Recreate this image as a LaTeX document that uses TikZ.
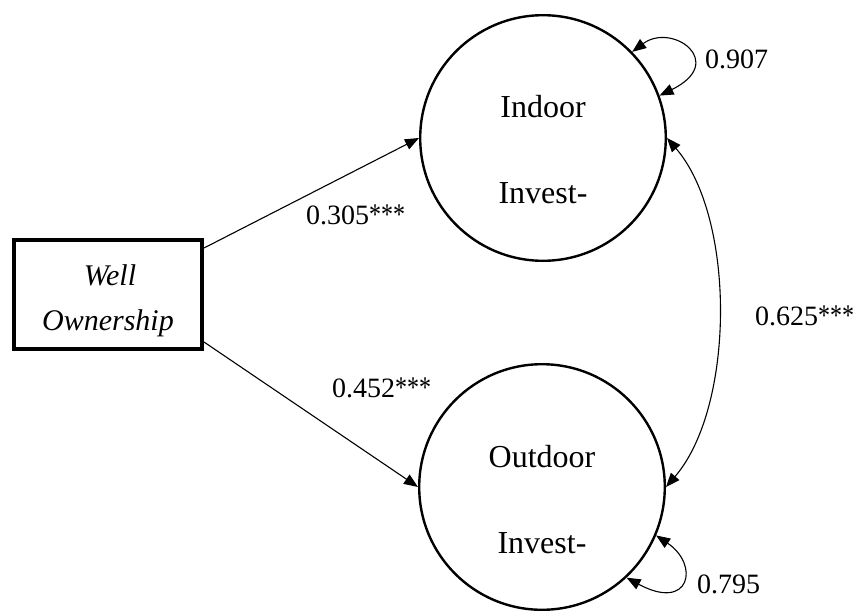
\documentclass[tikz,border=0pt]{standalone}
\usepackage{fontspec}
\setmainfont{Liberation Serif}
\usetikzlibrary{arrows.meta,calc}
\newcommand{\starz}{{\fontsize{30}{30}\selectfont\scalebox{0.8}[1]{***}}}
\begin{document}
\begin{tikzpicture}[x=1pt,y=-1pt,
 latent/.style={circle,draw,line width=2.4pt,minimum size=245.6pt,inner sep=0pt},
 obs/.style={rectangle,draw,line width=3.6pt,minimum width=188.4pt,minimum height=109.4pt,inner sep=0pt},
 ltxt/.style={anchor=base,font=\fontsize{32}{38}\selectfont,inner sep=0pt},
 otxt/.style={anchor=base,font=\fontsize{30}{36}\selectfont\itshape,inner sep=0pt},
 coef/.style={anchor=base west,font=\fontsize{28}{34}\selectfont,inner sep=0pt},
 regarrow/.style={line width=1.1pt,-{Triangle[length=14pt,width=11pt]}},
 cov/.style={line width=1.1pt,{Triangle[length=14pt,width=11pt]}-{Triangle[length=14pt,width=11pt]}}]
\useasboundingbox (0,0) rectangle (856,610);
\fill[white] (0,0) rectangle (856,610);
% observed variable
\node[obs] (wo) at (108,294.5) {};
\node[otxt] (wo1) at (110,285) {Well};
\node[otxt] (wo2) at (108,330) {Ownership};
% latent variables
\node[latent] (in) at (543,138) {};
\node[ltxt] (in1) at (543,117) {Indoor};
\node[ltxt] (in2) at (543,203) {Invest-};
\node[latent] (out) at (542,487) {};
\node[ltxt] (out1) at (542,467) {Outdoor};
\node[ltxt] (out2) at (542,553) {Invest-};
% paths
\draw[regarrow] ($(wo.north east)+(0,10)$) -- (in.west);
\draw[regarrow] ($(wo.south east)+(0,-9)$) -- (out.west);
% covariance
\draw[cov] (in.east) .. controls +(69,80) and +(69,-80) .. (out.east);
% residual variances
\draw[cov] (in.44) .. controls (672,22) and (728,62) .. (in.20);
\draw[cov] (out.-23) .. controls (700,565) and (690,612) .. (out.-47);
% coefficients
\node[coef] (c1) at (306,224) {0.305\starz};
\node[coef] (c2) at (332,397) {0.452\starz};
\node[coef] (c3) at (755,325) {0.625\starz};
\node[coef] (c4) at (705,68) {0.907};
\node[coef] (c5) at (697,593) {0.795};
\end{tikzpicture}
\end{document}
